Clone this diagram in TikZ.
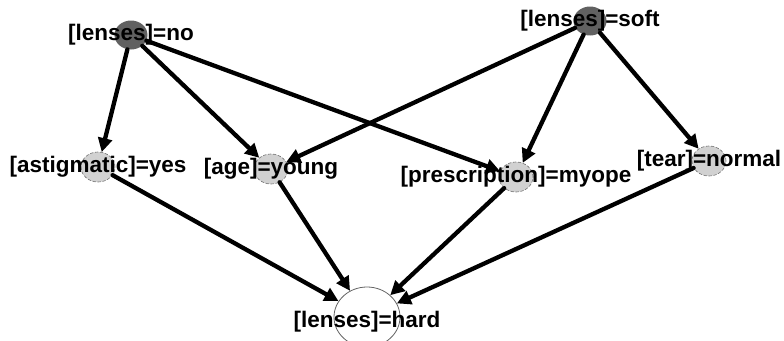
\documentclass[tikz,border=0pt]{standalone}
\usepackage{fontspec}
\setmainfont{Liberation Sans}
\usetikzlibrary{arrows.meta,shapes.geometric}

\begin{document}
\begin{tikzpicture}[x=1pt, y=-1pt, line cap=round, line join=round,
  dark/.style={ellipse, fill=black!62, minimum width=33pt, minimum height=29pt, inner sep=0pt},
  light/.style={ellipse, fill=black!18, draw=black!55, densely dashed, line width=0.6pt, minimum width=34pt, minimum height=30pt, inner sep=0pt},
  open/.style={ellipse, fill=white, draw=black!60, line width=0.8pt, minimum width=66pt, minimum height=60pt, inner sep=0pt},
  lbl/.style={font=\fontsize{22.5}{24}\selectfont\bfseries, inner sep=0pt},
  edge/.style={line width=4.3pt, -{Triangle[length=14pt,width=14pt]}}]
                \useasboundingbox (0,0) rectangle (784,340);
                % the ellipses
                \node[dark]  (no)    at (131, 35)  {};
                \node[dark]  (soft)  at (590, 21)  {};
                \node[light] (astig) at (98, 167)  {};
                \node[light] (age)   at (271, 169) {};
                \node[light] (presc) at (516, 177) {};
                \node[light] (tear)  at (709, 161) {};
                \node[open]  (hard)  at (367, 317) {};
                % connectors
                \foreach \from/\to in {no/astig, no/age, no/presc, soft/age, soft/presc, soft/tear, astig/hard, age/hard, presc/hard, tear/hard}
                    \draw[edge] (\from) -- (\to);
                % the labels, over the ellipses
                \foreach \n/\txt in {no/{[lenses]=no}, soft/{[lenses]=soft}, astig/{[astigmatic]=yes}, age/{[age]=young}, presc/{[prescription]=myope}, tear/{[tear]=normal}}
                    \node[lbl] (\n-lbl) at (\n) {\txt};
                \node[lbl] (hard-lbl) at ([yshift=-5pt]hard.center) {[lenses]=hard};
            \end{tikzpicture}
\end{document}
